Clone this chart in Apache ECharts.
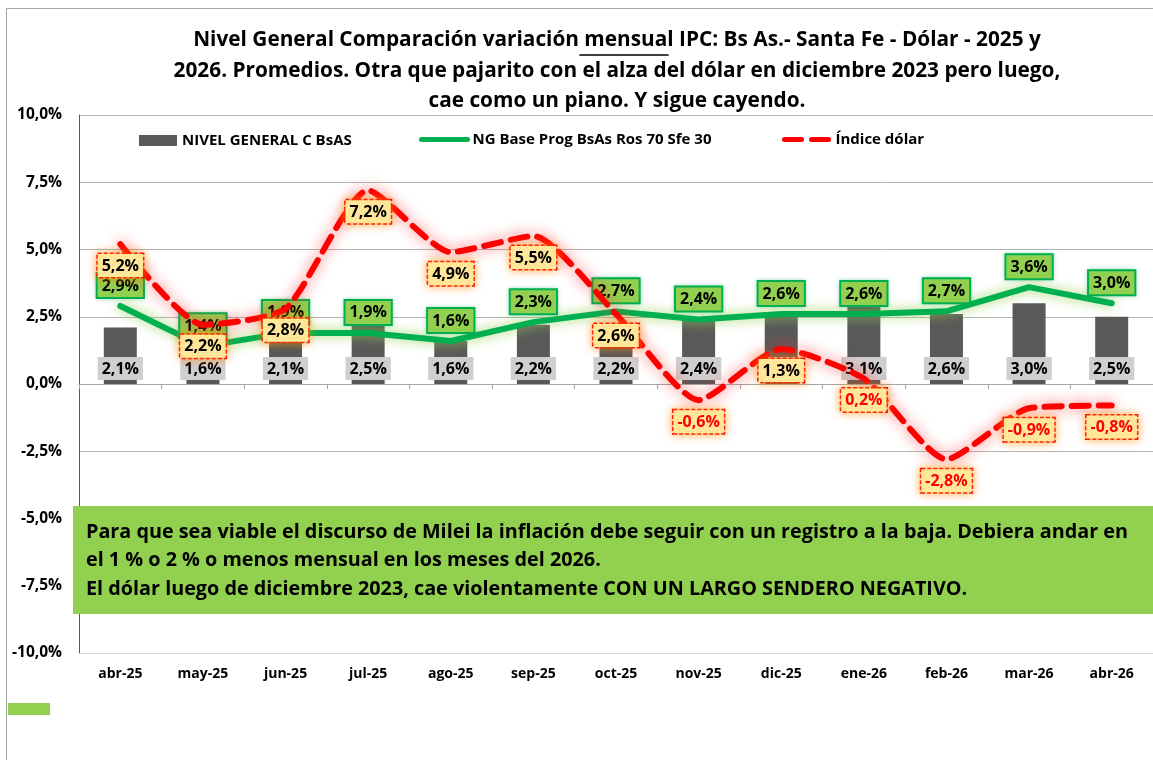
<!DOCTYPE html>
<html>
<head>
<meta charset="utf-8">
<script src="https://cdn.jsdelivr.net/npm/echarts@6/dist/echarts.min.js"></script>
<style>
  html, body {margin: 0; padding: 0; background: #fff;}
  #chart {width: 1153px; height: 760px;}
</style>
</head>
<body>
<div id="chart"></div>
<script>
const months = ['abr-25', 'may-25', 'jun-25', 'jul-25', 'ago-25', 'sep-25', 'oct-25',
  'nov-25', 'dic-25', 'ene-26', 'feb-26', 'mar-26', 'abr-26'];
const nivelGeneral = [2.1, 1.6, 2.1, 2.5, 1.6, 2.2, 2.2, 2.4, 2.5, 3.1, 2.6, 3.0, 2.5];
const ngBase = [2.9, 1.4, 1.9, 1.9, 1.6, 2.3, 2.7, 2.4, 2.6, 2.6, 2.7, 3.6, 3.0];
const dolar = [5.2, 2.2, 2.8, 7.2, 4.9, 5.5, 2.6, -0.6, 1.3, 0.2, -2.8, -0.9, -0.8];

const FONT = 'Open Sans';
const fmtPct = v => v.toFixed(1).replace('.', ',') + '%';

const titleLines = [
  'Nivel General Comparación variación mensual IPC: Bs As.- Santa Fe - Dólar - 2025 y',
  '2026. Promedios. Otra que pajarito con el alza del dólar en diciembre 2023 pero luego,',
  'cae como un piano. Y sigue cayendo.'
];
const TITLE_X = 612;
const TITLE_SIZE = 20.8;

// where the underlined word "mensual" falls on the first title line
const ctx = document.createElement('canvas').getContext('2d');
ctx.font = 'bold ' + TITLE_SIZE + 'px "' + FONT + '"';
const line1W = ctx.measureText(titleLines[0]).width;
const preW = ctx.measureText('Nivel General Comparación variación ').width;
const wordW = ctx.measureText('mensual').width;
const uX = TITLE_X - line1W / 2 + preW;

const chart = echarts.init(document.getElementById('chart'));

const labelBox = {
  padding: [4, 4, 3, 4],
  fontFamily: FONT, fontSize: 16, fontWeight: 'bold', color: '#000'
};
const legendText = {fontFamily: FONT, fontSize: 15, fontWeight: 'bold', color: '#000'};

const option = {
  animation: false,
  textStyle: {fontFamily: FONT},
  title: {
    text: titleLines.join('\n'),
    left: TITLE_X,
    top: 20,
    textAlign: 'center',
    textStyle: {fontFamily: FONT, fontSize: TITLE_SIZE, fontWeight: 'bold', color: '#000', lineHeight: 30.5}
  },
  legend: [
    {
      left: 134, top: 128, itemWidth: 38, itemHeight: 11,
      data: [{name: 'NIVEL GENERAL C BsAS', icon: 'rect'}],
      textStyle: legendText
    },
    {
      left: 414, top: 127, itemWidth: 46, itemHeight: 14,
      data: ['NG Base Prog BsAs Ros 70 Sfe 30'],
      lineStyle: {width: 5, shadowBlur: 0},
      textStyle: legendText
    },
    {
      left: 777, top: 127, itemWidth: 46, itemHeight: 14,
      data: ['Índice dólar'],
      lineStyle: {width: 5, shadowBlur: 0},
      textStyle: legendText
    }
  ],
  grid: {left: 79, top: 115, width: 1084, height: 538},
  xAxis: [
    {
      type: 'category',
      data: months,
      position: 'bottom',
      axisLine: {onZero: false, lineStyle: {color: '#d9d9d9', width: 1}},
      axisTick: {show: false},
      axisLabel: {margin: 14, fontFamily: FONT, fontSize: 14, fontWeight: 'bold', color: '#000'}
    },
    {
      type: 'category',
      data: months,
      position: 'top',
      axisLine: {onZero: true, lineStyle: {color: '#a6a6a6', width: 1}},
      axisTick: {show: true, inside: true, length: 5, lineStyle: {color: '#a6a6a6'}},
      axisLabel: {show: false}
    }
  ],
  yAxis: {
    type: 'value',
    min: -10,
    max: 10,
    interval: 2.5,
    axisLine: {show: true, lineStyle: {color: '#595959', width: 1}},
    axisTick: {show: false},
    splitLine: {lineStyle: {color: '#b4b4b4', width: 1}},
    axisLabel: {
      formatter: v => fmtPct(v),
      margin: 17,
      fontFamily: FONT, fontSize: 15.5, fontWeight: 'bold', color: '#000'
    }
  },
  series: [
    {
      name: 'NIVEL GENERAL C BsAS',
      type: 'bar',
      data: nivelGeneral,
      barWidth: 33,
      z: 2,
      itemStyle: {color: '#595959'},
      label: Object.assign({
        show: true,
        position: 'insideBottom',
        distance: 4,
        formatter: p => fmtPct(p.value),
        backgroundColor: '#d0cece'
      }, labelBox)
    },
    {
      name: 'NG Base Prog BsAs Ros 70 Sfe 30',
      type: 'line',
      data: ngBase,
      z: 3,
      symbol: 'circle',
      symbolSize: 2,
      showSymbol: true,
      lineStyle: {color: '#00b050', width: 6, cap: 'round', shadowColor: 'rgba(146,208,80,0.9)', shadowBlur: 12},
      itemStyle: {color: 'rgba(0,0,0,0)'},
      label: Object.assign({
        show: true,
        position: 'top',
        distance: 8,
        formatter: p => fmtPct(p.value),
        backgroundColor: '#92d050',
        borderColor: '#00b050',
        borderWidth: 2,
        shadowColor: 'rgba(0,176,80,0.35)',
        shadowBlur: 4
      }, labelBox)
    },
    {
      name: 'Índice dólar',
      type: 'line',
      data: dolar.map(v => ({
        value: v,
        // negative / small dollar values are printed in red
        label: {color: v < 1 ? '#ff0000' : '#000'}
      })),
      z: 4,
      smooth: 0.2,
      symbol: 'circle',
      symbolSize: 2,
      showSymbol: true,
      lineStyle: {color: '#ff0000', width: 6, type: [17, 10], cap: 'round', shadowColor: 'rgba(255,40,40,0.75)', shadowBlur: 14},
      itemStyle: {color: 'rgba(0,0,0,0)'},
      label: Object.assign({
        show: true,
        position: 'bottom',
        distance: 9,
        formatter: p => fmtPct(p.value),
        backgroundColor: '#ffe699',
        borderColor: '#ff0000',
        borderWidth: 1.5,
        borderType: [4, 2],
        shadowColor: 'rgba(255,140,0,0.7)',
        shadowBlur: 10
      }, labelBox)
    }
  ],
  graphic: [
    // chart frame
    {type: 'line', shape: {x1: 6.5, y1: 8.5, x2: 1153, y2: 8.5}, style: {stroke: '#a6a6a6', lineWidth: 1}, silent: true},
    {type: 'line', shape: {x1: 6.5, y1: 8.5, x2: 6.5, y2: 760}, style: {stroke: '#a6a6a6', lineWidth: 1}, silent: true},
    // underline of "mensual"
    {type: 'line', shape: {x1: uX, y1: 55, x2: uX + wordW, y2: 55}, style: {stroke: '#000', lineWidth: 1.5}, silent: true},
    // text box
    {type: 'rect', shape: {x: 73, y: 506, width: 1090, height: 108}, style: {fill: '#92d050'}, z: 10},
    {
      type: 'text', x: 86, y: 518, z: 11,
      style: {
        text: 'Para que sea viable el discurso de Milei la inflación debe seguir con un registro a la baja. Debiera andar en\n' +
          'el 1 % o 2 % o menos mensual en los meses del 2026.\n' +
          'El dólar luego de diciembre 2023, cae violentamente CON UN LARGO SENDERO NEGATIVO.',
        font: 'bold 19.8px "' + FONT + '"',
        fill: '#000',
        lineHeight: 28.5
      }
    },
    // leftover legend key at bottom left
    {type: 'rect', shape: {x: 8, y: 703, width: 42, height: 12}, style: {fill: '#92d050'}}
  ]
};

chart.setOption(option);
</script>
</body>
</html>
